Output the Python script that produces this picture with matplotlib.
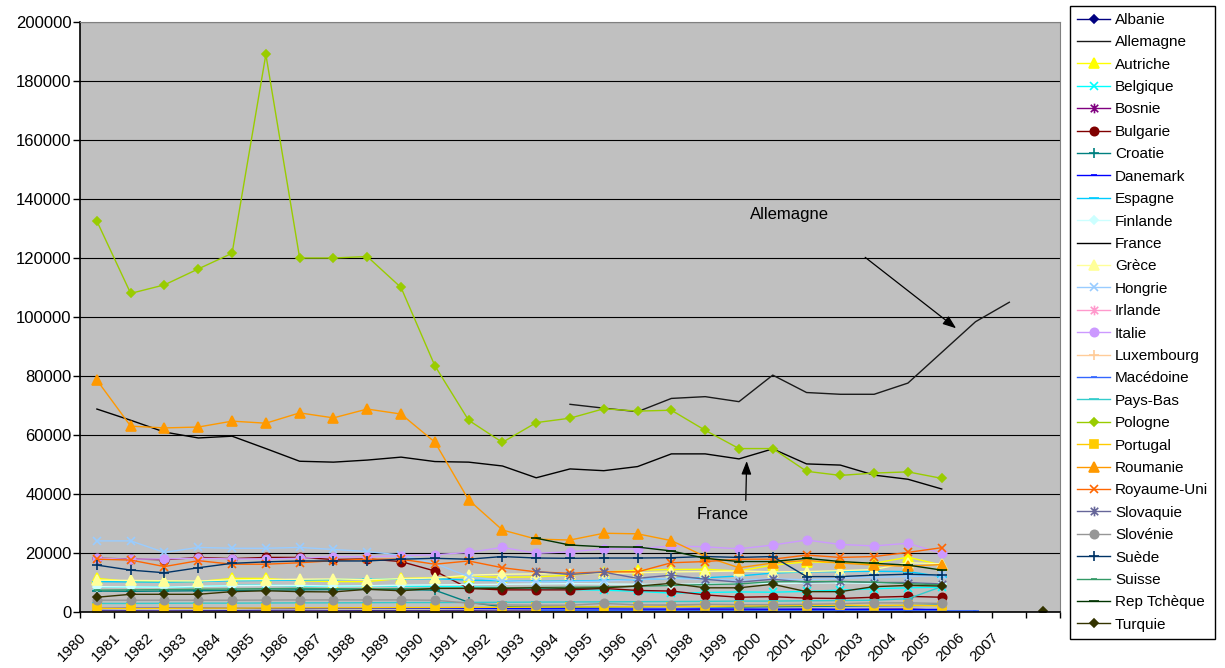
import numpy as np
import matplotlib
matplotlib.use("Agg")
import matplotlib.pyplot as plt
from matplotlib.path import Path
from matplotlib.transforms import ScaledTranslation

plt.rcParams['font.family'] = ['Liberation Sans', 'DejaVu Sans']

nan = np.nan

# one slot per year, plus an unlabeled slot at the end
years = ['1980', '1981', '1982', '1983', '1984', '1985', '1986', '1987', '1988', '1989',
         '1990', '1991', '1992', '1993', '1994', '1995', '1996', '1997', '1998', '1999',
         '2000', '2001', '2002', '2003', '2004', '2005', '2006', '2007', '']

albanie = [350, 380, 360, 400, 420, 400, 380, 410, 430, 400, 420, 450, 380, 350, 330, 360, 340, 300, 320, 330, 350, 360, 380, 350, 340, 330, nan, nan, nan]
allemagne = [nan, nan, nan, nan, nan, nan, nan, nan, nan, nan, nan, nan, nan, nan, 70400, 69100, 67900, 72400, 73000, 71300, 80300, 74400, 73800, 73800, 77600, 88000, 98400, 105000, nan]
autriche = [11400, 10300, 10300, 10300, 11400, 11400, 10600, 10300, 10300, 11400, 11600, 12000, 11800, 11900, 12500, 13500, 14200, 14400, 14500, 13900, 15900, 17000, 16700, 16500, 18600, 15900, nan, nan, nan]
belgique = [8600, 8500, 8400, 8600, 9000, 9100, 8800, 8700, 8900, 8800, 8700, 8500, 8300, 8000, 7600, 7400, 7000, 6400, 6600, 6800, 6700, 7000, 7400, 7900, 8200, 8400, nan, nan, nan]
bosnie = [nan, nan, nan, nan, nan, nan, nan, nan, nan, nan, nan, nan, nan, nan, nan, nan, 600, 700, 800, 700, 800, 900, 800, 900, 1000, 600, nan, nan, nan]
bulgarie = [18200, 18000, 17700, 18500, 18100, 18500, 18500, 17800, 18000, 17100, 13900, 8000, 7500, 7500, 7500, 8000, 7300, 7100, 5800, 5000, 5200, 4700, 4600, 5000, 5300, 5000, nan, nan, nan]
croatie = [7100, 7000, 7100, 7200, 7300, 7400, 7500, 7600, 7700, 7600, 7400, 3300, 1800, 1700, 1600, 1700, 1800, 1900, 1800, 1700, 1800, 1900, 2000, 2100, 2200, 2300, nan, nan, nan]
danemark = [1200, 1250, 1300, 1300, 1250, 1200, 1200, 1250, 1300, 1300, 1250, 1200, 1150, 1100, 1100, 1050, 1000, 1000, 1050, 1000, 950, 950, 900, 900, 850, 850, nan, nan, nan]
espagne = [10300, 10200, 10100, 10300, 10600, 10700, 10800, 11000, 11100, 11200, 11300, 10800, 10600, 10400, 10500, 10700, 11000, 11400, 11600, 12200, 13200, 13600, 13700, 13800, 13700, 12000, nan, nan, nan]
finlande = [8600, 8500, 8400, 8700, 8900, 9000, 9000, 8800, 8900, 9100, 9200, 9300, 9400, 9500, 9600, 9500, 9400, 9300, 9600, 9700, 9600, 9800, 9900, 9700, 9800, 9500, nan, nan, nan]
france = [68800, 65000, 61000, 59000, 59600, 55400, 51100, 50800, 51500, 52500, 51000, 50800, 49500, 45500, 48500, 47900, 49300, 53600, 53600, 51900, 55300, 50200, 49800, 46400, 45000, 41700, nan, nan, nan]
grece = [10800, 10700, 10600, 10500, 10900, 11000, 11100, 11200, 11000, 11300, 11500, 12500, 12800, 12900, 13000, 13100, 13300, 13600, 13700, 13900, 13600, 13700, 14000, 14400, 16700, 16300, nan, nan, nan]
hongrie = [24100, 24100, 20200, 21900, 21600, 21600, 21900, 21200, 20500, 19300, 16500, 12000, 10600, 10200, 10300, 10500, 11000, 11400, 11000, 10800, 11300, 10900, 11400, 11800, 12000, 12400, nan, nan, nan]
irlande = [150, 160, 170, 160, 150, 170, 180, 170, 160, 170, 180, 190, 200, 190, 180, 200, 210, 200, 190, 200, 210, 220, 200, 190, 200, 210, nan, nan, nan]
italie = [18200, 17900, 18000, 18200, 18000, 18000, 18200, 18800, 18700, 19100, 19400, 20200, 21900, 19900, 20400, 21400, 21400, 22400, 22100, 21400, 22700, 24400, 22900, 22400, 23300, 19900, nan, nan, nan]
luxembourg = [100, 110, 120, 110, 100, 110, 120, 130, 120, 110, 120, 130, 140, 130, 120, 130, 140, 150, 140, 130, 140, 150, 160, 150, 140, 150, nan, nan, nan]
macedoine = [nan, nan, nan, nan, nan, nan, nan, nan, nan, nan, nan, nan, nan, 500, 520, 480, 450, 470, 500, 480, 460, 440, 420, 450, 430, 410, 400, nan, nan]
paysBas = [2900, 2900, 2950, 3000, 3000, 3050, 3100, 3100, 3150, 3200, 3200, 3250, 3300, 3350, 3400, 3450, 3500, 3550, 3600, 3700, 3700, 3800, 3900, 4000, 4500, 8600, nan, nan, nan]
pologne = [132500, 108000, 110900, 116300, 121600, 189000, 120000, 120000, 120500, 110000, 83500, 65000, 57500, 64200, 65700, 68900, 68100, 68400, 61600, 55400, 55400, 47700, 46300, 47100, 47500, 45300, nan, nan, nan]
portugal = [1250, 1200, 1250, 1300, 1300, 1350, 1400, 1400, 1450, 1500, 1500, 1550, 1600, 1650, 1700, 1750, 1800, 1850, 1900, 2000, 2100, 2200, 2300, 2200, 2300, 2100, nan, nan, nan]
roumanie = [78600, 63000, 62400, 62700, 64700, 64000, 67500, 65800, 68800, 67100, 57600, 38000, 27800, 24700, 24400, 26700, 26500, 24200, 18800, 15000, 16600, 17500, 16600, 15900, 15500, 16100, nan, nan, nan]
royaumeUni = [17900, 17600, 15400, 17400, 16200, 16200, 16700, 17400, 17900, 17900, 16200, 17300, 15000, 13600, 13100, 13600, 13600, 16700, 17100, 17900, 17900, 19300, 18500, 18800, 20200, 21800, nan, nan, nan]
slovaquie = [nan, nan, nan, nan, nan, nan, nan, nan, nan, nan, nan, nan, nan, 13700, 12700, 13500, 11400, 12500, 11100, 10100, 11100, 10100, 10400, 10000, 10000, 9500, nan, nan, nan]
slovenie = [4000, 4000, 4000, 4000, 4000, 4050, 4100, 4100, 4100, 4100, 4000, 3000, 2400, 2300, 2300, 2900, 2400, 2400, 2600, 2500, 2500, 2600, 2800, 3100, 3100, 2900, nan, nan, nan]
suede = [15900, 14200, 13300, 15000, 16500, 17000, 17300, 17300, 17300, 17900, 18200, 17900, 18800, 18300, 18200, 18300, 18300, 18400, 18800, 18500, 18800, 12000, 12000, 12500, 12800, 12500, nan, nan, nan]
suisse = [7400, 7500, 7600, 7700, 7800, 7900, 8000, 7900, 7800, 7900, 8000, 8100, 8200, 8300, 8400, 8500, 8700, 9000, 9300, 9500, 10300, 10300, 10300, 10100, 9600, 9200, nan, nan, nan]
repTcheque = [nan, nan, nan, nan, nan, nan, nan, nan, nan, nan, nan, nan, nan, 25000, 22700, 22100, 22000, 20700, 18200, 17100, 17100, 18200, 17100, 16500, 15900, 14200, nan, nan, nan]
turquie = [5000, 6000, 6000, 6000, 6900, 7200, 6900, 6800, 7700, 7200, 8000, 8000, 8000, 8200, 8000, 8200, 8800, 9700, 8200, 8200, 9400, 6900, 6900, 8600, 9000, 8800, nan, nan, 200]

# asterisk marker: an x with a vertical bar through it
asterisk = Path([(-0.5, -0.5), (0.5, 0.5), (-0.5, 0.5), (0.5, -0.5), (0, -0.65), (0, 0.65)],
                [Path.MOVETO, Path.LINETO] * 3)

# name, values, colour, marker, marker size
series = [
    ('Albanie', albanie, '#000080', 'D', 4.2),
    ('Allemagne', allemagne, '#1a1a1a', None, 0),
    ('Autriche', autriche, '#FFFF00', '^', 6.5),
    ('Belgique', belgique, '#00FFFF', 'x', 6),
    ('Bosnie', bosnie, '#800080', asterisk, 7),
    ('Bulgarie', bulgarie, '#800000', 'o', 6),
    ('Croatie', croatie, '#008080', '+', 7),
    ('Danemark', danemark, '#0000FF', '_', 4),
    ('Espagne', espagne, '#00CCFF', '_', 7),
    ('Finlande', finlande, '#CCFFFF', 'D', 4.2),
    ('France', france, '#000000', None, 0),
    ('Grèce', grece, '#FFFF99', '^', 6.5),
    ('Hongrie', hongrie, '#99CCFF', 'x', 6),
    ('Irlande', irlande, '#FF99CC', asterisk, 7),
    ('Italie', italie, '#CC99FF', 'o', 6),
    ('Luxembourg', luxembourg, '#FFCC99', '+', 7),
    ('Macédoine', macedoine, '#3366FF', '_', 4),
    ('Pays-Bas', paysBas, '#33CCCC', '_', 7),
    ('Pologne', pologne, '#99CC00', 'D', 4.2),
    ('Portugal', portugal, '#FFCC00', 's', 5.5),
    ('Roumanie', roumanie, '#FF9900', '^', 6.5),
    ('Royaume-Uni', royaumeUni, '#FF6600', 'x', 6),
    ('Slovaquie', slovaquie, '#666699', asterisk, 7),
    ('Slovénie', slovenie, '#969696', 'o', 6),
    ('Suède', suede, '#003366', '+', 7),
    ('Suisse', suisse, '#339966', '_', 4),
    ('Rep Tchèque', repTcheque, '#003300', '_', 7),
    ('Turquie', turquie, '#333300', 'D', 4.2),
]

W, H = 1225, 668
fig = plt.figure(figsize=(W / 100, H / 100), dpi=100)
fig.subplots_adjust(left=80 / W, right=1060 / W, bottom=1 - 612 / H, top=1 - 22 / H)
ax = fig.add_subplot(111)
ax.set_facecolor('#C0C0C0')

x = np.arange(len(years))
for name, vals, col, mk, ms in series:
    ax.plot(x, vals, color=col, lw=1.0, marker=mk, markersize=ms,
            markerfacecolor=col, markeredgecolor=col, markeredgewidth=1.2, label=name)

ax.set_xlim(-0.5, len(years) - 0.5)
ax.set_ylim(0, 200000)

# axes, grid and ticks
ax.set_axisbelow(True)
ax.yaxis.grid(True, color='black', lw=0.8)
for side in ['top', 'right']:
    ax.spines[side].set_color('#808080')
    ax.spines[side].set_linewidth(0.8)
for side in ['left', 'bottom']:
    ax.spines[side].set_color('black')
    ax.spines[side].set_linewidth(1.2)

ax.set_yticks(np.arange(0, 200001, 20000))
ax.yaxis.set_major_formatter(plt.FormatStrFormatter('%d'))
ax.tick_params(axis='y', direction='out', length=5, width=1, pad=1, labelsize=12)

ax.set_xticks(x)
ax.set_xticks(np.arange(-0.5, len(years), 1), minor=True)
ax.set_xticklabels(years, rotation=45, ha='center', va='top', fontsize=11)
ax.tick_params(axis='x', which='major', length=0, pad=13)
ax.tick_params(axis='x', which='minor', direction='out', length=4, width=1)
shift = ScaledTranslation(-25 / 100, 0, fig.dpi_scale_trans)
for lbl in ax.get_xticklabels():
    lbl.set_transform(lbl.get_transform() + shift)

# callouts for the two big series
ax.text(19.34, 134800, 'Allemagne', fontsize=12, va='center', ha='left')
ax.annotate('', xy=(25.49, 95600), xytext=(22.67, 120800),
            arrowprops=dict(arrowstyle='-|>,head_length=0.8,head_width=0.3', color='black', lw=0.9))
ax.text(17.75, 32900, 'France', fontsize=12, va='center', ha='left')
ax.annotate('', xy=(19.23, 52100), xytext=(19.20, 36850),
            arrowprops=dict(arrowstyle='-|>,head_length=0.8,head_width=0.3', color='black', lw=0.9))

leg = ax.legend(loc='upper left', bbox_to_anchor=(1070 / W, 1 - 6 / H), bbox_transform=fig.transFigure,
                borderaxespad=0, fontsize=11, numpoints=1, handlelength=2.2, handletextpad=0.3,
                labelspacing=0.55, borderpad=0.45, fancybox=False, framealpha=1)
leg.get_frame().set_edgecolor('black')
leg.get_frame().set_linewidth(1.0)

fig.savefig('out.png', dpi=100, facecolor='white')
